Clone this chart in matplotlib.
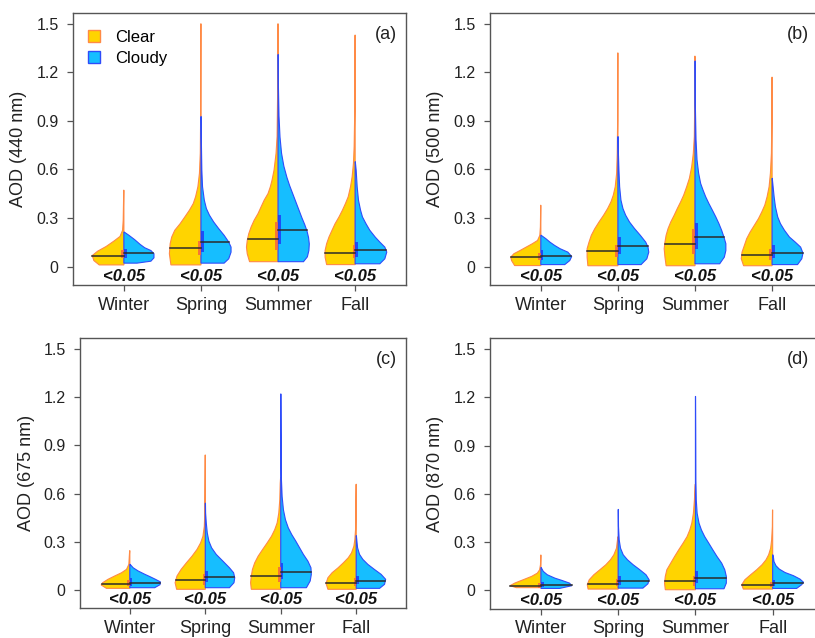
import matplotlib.pyplot as plt
from matplotlib.patches import Patch, Rectangle
import numpy as np

plt.rcParams['font.family'] = ['Liberation Sans', 'DejaVu Sans']

seasons = ["Winter", "Spring", "Summer", "Fall"]
wavelengths = ["440", "500", "675", "870"]
panel_tags = ["(a)", "(b)", "(c)", "(d)"]
p_labels = ["<0.05", "<0.05", "<0.05", "<0.05"]
yticks = [0, 0.3, 0.6, 0.9, 1.2, 1.5]

# violin outlines: (AOD, half width) from the minimum up to the maximum
clear_440 = [
    [(0.010, 0.32), (0.037, 0.39), (0.068, 0.41), (0.095, 0.34), (0.124, 0.23), (0.157, 0.13), (0.186, 0.05),
     (0.224, 0.017), (0.286, 0.009), (0.472, 0.002)],
    [(0.010, 0.39), (0.079, 0.41), (0.141, 0.40), (0.182, 0.38), (0.224, 0.34), (0.265, 0.27), (0.306, 0.21),
     (0.348, 0.15), (0.389, 0.10), (0.431, 0.07), (0.493, 0.04), (0.576, 0.02), (0.70, 0.009), (0.90, 0.005),
     (1.50, 0.002)],
    [(0.03, 0.37), (0.079, 0.40), (0.12, 0.41), (0.161, 0.40), (0.203, 0.38), (0.244, 0.35), (0.286, 0.31),
     (0.327, 0.26), (0.369, 0.22), (0.41, 0.18), (0.451, 0.13), (0.493, 0.10), (0.534, 0.078), (0.596, 0.052),
     (0.70, 0.026), (0.803, 0.013), (1.1, 0.005), (1.5, 0.002)],
    [(0.012, 0.37), (0.058, 0.39), (0.099, 0.39), (0.141, 0.37), (0.182, 0.34), (0.224, 0.30), (0.265, 0.26),
     (0.306, 0.21), (0.348, 0.165), (0.389, 0.126), (0.431, 0.09), (0.493, 0.06), (0.555, 0.039), (0.638, 0.022),
     (0.741, 0.013), (1.0, 0.004), (1.43, 0.002)],
]
cloudy_440 = [
    [(0.021, 0.17), (0.033, 0.35), (0.054, 0.39), (0.079, 0.39), (0.099, 0.35), (0.116, 0.27), (0.137, 0.21),
     (0.166, 0.14), (0.193, 0.065), (0.213, 0.004)],
    [(0.021, 0.30), (0.048, 0.36), (0.089, 0.39), (0.12, 0.39), (0.151, 0.36), (0.193, 0.30), (0.234, 0.23),
     (0.275, 0.165), (0.317, 0.11), (0.358, 0.07), (0.41, 0.043), (0.493, 0.02), (0.596, 0.011), (0.80, 0.004),
     (0.927, 0.002)],
    [(0.03, 0.33), (0.06, 0.38), (0.10, 0.40), (0.14, 0.405), (0.18, 0.395), (0.22, 0.375), (0.26, 0.345),
     (0.30, 0.31), (0.35, 0.27), (0.40, 0.23), (0.45, 0.19), (0.50, 0.15), (0.55, 0.115), (0.62, 0.075),
     (0.70, 0.045), (0.80, 0.025), (0.93, 0.012), (1.1, 0.005), (1.31, 0.002)],
    [(0.017, 0.32), (0.048, 0.385), (0.089, 0.41), (0.12, 0.385), (0.151, 0.32), (0.182, 0.26), (0.224, 0.19),
     (0.265, 0.14), (0.306, 0.095), (0.348, 0.07), (0.41, 0.043), (0.493, 0.026), (0.596, 0.013), (0.648, 0.002)],
]
clear_500 = [
    [(0.006, 0.34), (0.037, 0.38), (0.058, 0.39), (0.079, 0.35), (0.099, 0.27), (0.12, 0.19), (0.141, 0.11),
     (0.161, 0.043), (0.193, 0.013), (0.244, 0.006), (0.379, 0.002)],
    [(0.005, 0.39), (0.058, 0.40), (0.11, 0.40), (0.151, 0.375), (0.193, 0.345), (0.234, 0.30), (0.275, 0.246),
     (0.317, 0.186), (0.358, 0.134), (0.40, 0.09), (0.441, 0.06), (0.493, 0.035), (0.576, 0.017), (0.70, 0.009),
     (0.90, 0.004), (1.32, 0.002)],
    [(0.005, 0.375), (0.058, 0.39), (0.11, 0.40), (0.151, 0.39), (0.193, 0.375), (0.234, 0.35), (0.275, 0.315),
     (0.317, 0.27), (0.358, 0.23), (0.40, 0.186), (0.441, 0.147), (0.493, 0.108), (0.545, 0.073), (0.617, 0.043),
     (0.70, 0.022), (0.803, 0.009), (1.0, 0.004), (1.30, 0.002)],
    [(0.005, 0.37), (0.048, 0.40), (0.089, 0.39), (0.13, 0.36), (0.172, 0.33), (0.213, 0.285), (0.255, 0.23),
     (0.296, 0.177), (0.337, 0.134), (0.379, 0.095), (0.431, 0.065), (0.493, 0.039), (0.576, 0.022), (0.70, 0.009),
     (0.90, 0.004), (1.17, 0.002)],
]
cloudy_500 = [
    [(0.012, 0.31), (0.037, 0.375), (0.062, 0.40), (0.089, 0.35), (0.11, 0.25), (0.13, 0.18), (0.151, 0.117),
     (0.172, 0.065), (0.193, 0.004)],
    [(0.012, 0.30), (0.048, 0.375), (0.089, 0.40), (0.12, 0.39), (0.151, 0.36), (0.193, 0.29), (0.234, 0.216),
     (0.275, 0.15), (0.317, 0.10), (0.358, 0.065), (0.41, 0.039), (0.493, 0.022), (0.596, 0.013), (0.70, 0.006),
     (0.803, 0.002)],
    [(0.017, 0.32), (0.058, 0.38), (0.099, 0.40), (0.141, 0.40), (0.182, 0.375), (0.224, 0.345), (0.265, 0.31),
     (0.306, 0.27), (0.348, 0.225), (0.389, 0.18), (0.431, 0.138), (0.472, 0.104), (0.513, 0.073), (0.576, 0.047),
     (0.658, 0.026), (0.783, 0.013), (1.0, 0.004), (1.27, 0.002)],
    [(0.012, 0.33), (0.048, 0.385), (0.083, 0.40), (0.12, 0.37), (0.151, 0.30), (0.182, 0.225), (0.224, 0.16),
     (0.265, 0.108), (0.306, 0.073), (0.369, 0.043), (0.431, 0.026), (0.493, 0.013), (0.545, 0.002)],
]
clear_675 = [
    [(0.010, 0.31), (0.031, 0.38), (0.045, 0.36), (0.066, 0.29), (0.087, 0.20), (0.107, 0.11), (0.128, 0.044),
     (0.159, 0.013), (0.21, 0.007), (0.245, 0.002)],
    [(0.004, 0.38), (0.045, 0.40), (0.087, 0.375), (0.128, 0.32), (0.169, 0.25), (0.21, 0.176), (0.252, 0.11),
     (0.293, 0.062), (0.334, 0.031), (0.396, 0.013), (0.479, 0.007), (0.84, 0.002)],
    [(0.004, 0.39), (0.045, 0.40), (0.087, 0.39), (0.128, 0.375), (0.169, 0.345), (0.21, 0.30), (0.252, 0.24),
     (0.293, 0.18), (0.334, 0.123), (0.375, 0.08), (0.417, 0.048), (0.479, 0.026), (0.561, 0.013), (0.664, 0.007),
     (0.70, 0.002)],
    [(0.004, 0.375), (0.041, 0.40), (0.076, 0.375), (0.107, 0.32), (0.138, 0.24), (0.169, 0.17), (0.20, 0.106),
     (0.231, 0.062), (0.272, 0.031), (0.314, 0.018), (0.375, 0.009), (0.658, 0.002)],
]
cloudy_675 = [
    [(0.014, 0.33), (0.033, 0.40), (0.05, 0.405), (0.066, 0.34), (0.083, 0.265), (0.097, 0.20), (0.118, 0.11),
     (0.138, 0.044), (0.159, 0.004)],
    [(0.014, 0.32), (0.045, 0.38), (0.076, 0.39), (0.107, 0.375), (0.138, 0.32), (0.179, 0.234), (0.221, 0.145),
     (0.262, 0.084), (0.303, 0.048), (0.355, 0.026), (0.417, 0.013), (0.479, 0.004), (0.54, 0.002)],
    [(0.014, 0.34), (0.056, 0.39), (0.097, 0.405), (0.138, 0.40), (0.179, 0.36), (0.221, 0.30), (0.262, 0.25),
     (0.303, 0.20), (0.345, 0.145), (0.386, 0.10), (0.437, 0.062), (0.499, 0.035), (0.582, 0.018), (0.685, 0.009),
     (1.0, 0.004), (1.22, 0.002)],
    [(0.01, 0.31), (0.035, 0.375), (0.066, 0.39), (0.097, 0.33), (0.128, 0.24), (0.159, 0.154), (0.19, 0.088),
     (0.221, 0.044), (0.262, 0.018), (0.303, 0.009), (0.338, 0.002)],
]
clear_870 = [
    [(0.017, 0.32), (0.029, 0.40), (0.045, 0.34), (0.066, 0.23), (0.087, 0.12), (0.107, 0.047), (0.128, 0.017),
     (0.159, 0.006), (0.22, 0.002)],
    [(0.008, 0.39), (0.035, 0.40), (0.066, 0.375), (0.097, 0.315), (0.128, 0.237), (0.159, 0.16), (0.19, 0.10),
     (0.221, 0.056), (0.262, 0.022), (0.314, 0.009), (0.334, 0.002)],
    [(0.004, 0.39), (0.045, 0.40), (0.087, 0.39), (0.128, 0.37), (0.169, 0.32), (0.21, 0.27), (0.252, 0.216),
     (0.293, 0.16), (0.334, 0.108), (0.375, 0.073), (0.417, 0.047), (0.479, 0.026), (0.561, 0.013), (0.644, 0.005),
     (0.66, 0.002)],
    [(0.008, 0.38), (0.035, 0.40), (0.066, 0.36), (0.097, 0.285), (0.128, 0.207), (0.159, 0.138), (0.19, 0.086),
     (0.221, 0.052), (0.262, 0.026), (0.314, 0.013), (0.396, 0.004), (0.50, 0.002)],
]
cloudy_870 = [
    [(0.012, 0.24), (0.029, 0.40), (0.045, 0.37), (0.062, 0.27), (0.076, 0.18), (0.097, 0.082), (0.118, 0.03),
     (0.142, 0.003)],
    [(0.014, 0.32), (0.041, 0.385), (0.066, 0.40), (0.097, 0.36), (0.128, 0.28), (0.159, 0.194), (0.19, 0.12),
     (0.221, 0.065), (0.262, 0.03), (0.314, 0.013), (0.396, 0.004), (0.503, 0.002)],
    [(0.01, 0.37), (0.045, 0.40), (0.087, 0.40), (0.128, 0.38), (0.169, 0.34), (0.21, 0.28), (0.252, 0.225),
     (0.293, 0.173), (0.334, 0.12), (0.375, 0.078), (0.417, 0.047), (0.479, 0.022), (0.561, 0.011), (0.685, 0.006),
     (1.0, 0.004), (1.205, 0.002)],
    [(0.012, 0.31), (0.035, 0.375), (0.05, 0.40), (0.07, 0.354), (0.091, 0.27), (0.111, 0.16), (0.132, 0.086),
     (0.153, 0.043), (0.179, 0.017), (0.21, 0.009), (0.221, 0.002)],
]

# medians and interquartile ranges per season (Winter, Spring, Summer, Fall)
clear_median = {"440": [0.068, 0.114, 0.172, 0.085], "500": [0.06, 0.095, 0.137, 0.072],
                "675": [0.039, 0.062, 0.087, 0.045], "870": [0.029, 0.041, 0.058, 0.035]}
cloudy_median = {"440": [0.083, 0.149, 0.224, 0.101], "500": [0.066, 0.124, 0.182, 0.083],
                 "675": [0.045, 0.083, 0.113, 0.056], "870": [0.031, 0.06, 0.078, 0.045]}
clear_iqr = {"440": [(0.05, 0.10), (0.07, 0.16), (0.10, 0.275), (0.05, 0.13)],
             "500": [(0.04, 0.085), (0.06, 0.13), (0.08, 0.23), (0.04, 0.11)],
             "675": [(0.025, 0.06), (0.03, 0.10), (0.05, 0.14), (0.025, 0.075)],
             "870": [(0.015, 0.045), (0.025, 0.07), (0.03, 0.09), (0.02, 0.055)]}
cloudy_iqr = {"440": [(0.05, 0.11), (0.089, 0.217), (0.137, 0.32), (0.06, 0.15)],
              "500": [(0.04, 0.10), (0.08, 0.18), (0.11, 0.27), (0.05, 0.13)],
              "675": [(0.025, 0.075), (0.05, 0.12), (0.07, 0.17), (0.035, 0.085)],
              "870": [(0.02, 0.05), (0.035, 0.09), (0.045, 0.12), (0.03, 0.065)]}

clear_profiles = {"440": clear_440, "500": clear_500, "675": clear_675, "870": clear_870}
cloudy_profiles = {"440": cloudy_440, "500": cloudy_500, "675": cloudy_675, "870": cloudy_870}

CLEAR_FILL, CLEAR_EDGE, CLEAR_BOX = "#FFD400", "#FF8A45", "#F4663F"
CLOUDY_FILL, CLOUDY_EDGE, CLOUDY_BOX = "#16BEFF", "#2E4CFA", "#1F3BF5"
AXIS_COL = "#555555"


def half_violin(ax, x, profile, side, face, edge):
    ys = np.array([p[0] for p in profile])
    ws = np.array([p[1] for p in profile])
    px = np.concatenate([[x], x + side * ws, [x]])
    py = np.concatenate([[ys[0]], ys, [ys[-1]]])
    ax.fill(px, py, facecolor=face, edgecolor=edge, lw=0.8, zorder=2)
    return ys, ws


def draw_panel(ax, wl, tag, tag_x):
    for i, season in enumerate(seasons):
        x = i + 1
        for side, prof, med, iqr, face, edge, boxc in [
                (-1, clear_profiles[wl][i], clear_median[wl][i], clear_iqr[wl][i], CLEAR_FILL, CLEAR_EDGE, CLEAR_BOX),
                (1, cloudy_profiles[wl][i], cloudy_median[wl][i], cloudy_iqr[wl][i], CLOUDY_FILL, CLOUDY_EDGE, CLOUDY_BOX)]:
            ys, ws = half_violin(ax, x, prof, side, face, edge)
            wm = np.interp(med, ys, ws)
            ax.plot([x, x + side * wm], [med, med], color="#2b2b2b", lw=1.1, zorder=4)
            bw = 0.034
            x0 = x - bw if side < 0 else x
            ax.add_patch(Rectangle((x0, iqr[0]), bw, iqr[1] - iqr[0], facecolor=boxc,
                                   edgecolor="none", alpha=0.85, zorder=3))
        ax.text(x, -0.06, p_labels[i], ha="center", va="center", fontsize=12,
                fontweight="bold", fontstyle="italic", color="#111111")

    ax.set_xlim(0.34, 4.66)
    ax.set_ylim(-0.114, 1.566)
    ax.set_xticks(range(1, 5))
    ax.set_xticklabels(seasons, fontsize=13, color="#222222")
    ax.set_yticks(yticks)
    ax.set_yticklabels(["0", "0.3", "0.6", "0.9", "1.2", "1.5"], fontsize=11.5, color="#222222")
    ax.tick_params(axis="x", length=4.3, width=0.9, color=AXIS_COL, pad=4)
    ax.tick_params(axis="y", length=4.3, width=0.9, color=AXIS_COL, pad=6)
    for s in ax.spines.values():
        s.set_color(AXIS_COL)
        s.set_linewidth(1.0)
    ax.text(-0.163, 0.5, f"AOD ({wl} nm)", transform=ax.transAxes, rotation=90,
            ha="center", va="center", fontsize=13, color="#222222")
    ax.text(tag_x, 0.922, tag, transform=ax.transAxes, ha="center", va="center",
            fontsize=13, color="#222222")


fig = plt.figure(figsize=(8.15, 6.38), dpi=100)
positions = [[0.0896, 0.5533, 0.4086, 0.4263], [0.6012, 0.5533, 0.4086, 0.4263],
             [0.0982, 0.0466, 0.4000, 0.4232], [0.6012, 0.0459, 0.4094, 0.4238]]
tag_xs = [0.94, 0.926, 0.94, 0.923]
axes = []
for k, wl in enumerate(wavelengths):
    ax = fig.add_axes(positions[k])
    draw_panel(ax, wl, panel_tags[k], tag_xs[k])
    axes.append(ax)

handles = [Patch(facecolor=CLEAR_FILL, edgecolor=CLEAR_EDGE, label="Clear"),
           Patch(facecolor=CLOUDY_FILL, edgecolor=CLOUDY_EDGE, label="Cloudy")]
axes[0].legend(handles=handles, loc="upper left", bbox_to_anchor=(0.025, 0.962), frameon=False,
               fontsize=12, handlelength=0.7, handleheight=0.7, handletextpad=0.9,
               labelspacing=0.35, borderaxespad=0)

fig.savefig("out.png", dpi=100)
